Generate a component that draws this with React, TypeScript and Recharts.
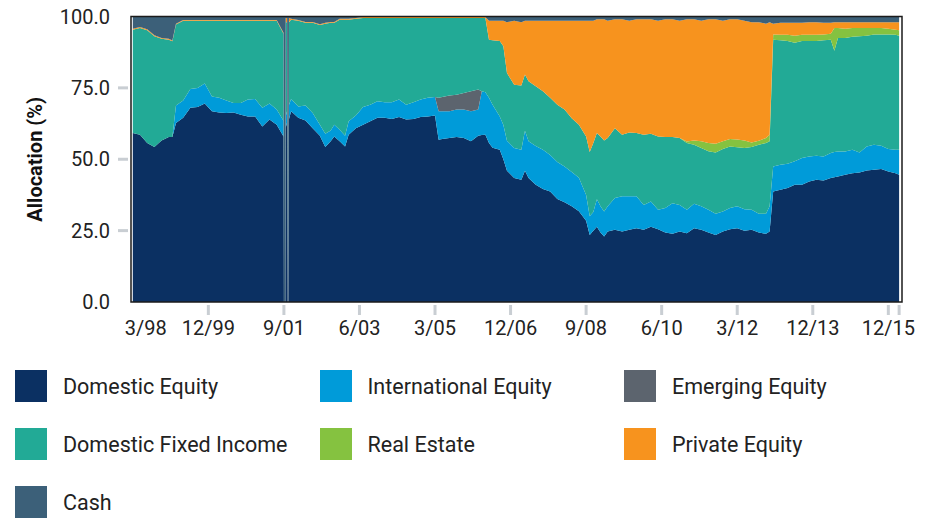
import { AreaChart, Area, XAxis, YAxis, ReferenceArea } from "recharts";

// month index, 0 = 3/98 ... 213 = 12/15
const months = [
  0, 2, 4, 6, 8, 10, 11, 12, 14, 16,
  18, 20, 22, 24, 26, 28, 30, 32, 34, 36,
  38, 40, 41.9, 42, 42.4, 42.5, 42.9, 43.05, 43.25, 43.4,
  44, 46, 48, 50, 52, 53.5, 55, 56, 57.5, 59,
  60, 62, 64, 66, 68, 70, 72, 74, 76, 78,
  80, 82, 84, 85, 86, 88, 90, 92, 94, 96,
  97, 98, 99, 100, 102, 103, 104, 106, 108, 109,
  110, 112, 114, 116, 118, 120, 122, 124, 126, 127,
  128, 129, 130, 131, 132, 134, 136, 138, 140, 142,
  144, 146, 148, 150, 152, 154, 156, 158, 160, 162,
  164, 166, 168, 170, 172, 174, 176, 177, 178, 180,
  182, 184, 186, 188, 190, 192, 194, 195, 196, 198,
  200, 202, 204, 206, 208, 210, 212, 213,
];

const domestic = [
  59.2, 58.6, 55.7, 54.3, 56.6, 57.8, 57.8, 62.7, 64.5, 68.0,
  68.3, 69.5, 66.8, 66.4, 66.2, 66.4, 65.6, 65.0, 65.0, 61.5,
  63.9, 62.1, 58.0, 0, 0, 61, 63, 0, 0, 64,
  66.8, 64.5, 63.6, 60.9, 58.2, 54.3, 56.3, 58.0, 56.3, 54.5,
  58.6, 60.9, 62.1, 63.3, 64.5, 64.5, 64.1, 64.8, 63.9, 64.1,
  64.8, 65.0, 65.3, 56.8, 57.1, 57.4, 57.8, 57.4, 56.3, 58.2,
  58.5, 58.6, 55.7, 54.0, 53.3, 50.0, 46.0, 43.4, 42.8, 46.0,
  43.4, 41.1, 39.6, 38.7, 36.1, 34.9, 33.5, 31.8, 28.5, 23.5,
  25.0, 26.4, 24.3, 22.9, 24.7, 25.3, 24.7, 25.3, 25.8, 25.3,
  26.4, 25.5, 24.3, 23.9, 24.7, 24.1, 25.8, 25.3, 24.3, 23.5,
  24.7, 25.5, 25.8, 25.0, 25.3, 24.3, 23.9, 24.7, 38.7, 39.3,
  39.9, 41.1, 41.1, 42.2, 42.8, 42.6, 43.4, 43.7, 44.0, 44.6,
  45.1, 45.4, 46.1, 46.3, 46.6, 45.7, 45.1, 44.6,
];

const international = [
  0, 0, 0, 0, 0, 0, 0, 6.1, 6.1, 6.6,
  6.7, 7.0, 5.2, 5.1, 4.4, 3.3, 4.1, 5.9, 6.1, 6.5,
  5.6, 5.3, 5.5, 0, 0, 4, 4, 0, 0, 5,
  4.3, 4.0, 5.2, 5.3, 3.9, 4.6, 3.8, 4.1, 4.0, 3.7,
  4.7, 4.4, 6.2, 5.8, 5.8, 5.5, 5.9, 6.1, 5.2, 5.9,
  6.1, 6.5, 6.5, 10.0, 9.7, 9.4, 9.6, 10.0, 10.5, 9.2,
  15.3, 14.9, 15.8, 15.1, 11.7, 12.0, 10.5, 10.5, 10.5, 14.0,
  12.9, 13.5, 13.7, 12.8, 12.9, 12.6, 12.0, 11.7, 9.0, 6.5,
  6.5, 9.6, 9.2, 8.8, 8.8, 11.1, 12.3, 11.7, 11.2, 8.7,
  8.8, 6.8, 8.6, 10.7, 9.3, 8.2, 8.6, 8.2, 8.0, 7.4,
  7.0, 7.4, 7.7, 7.5, 7.0, 6.6, 7.0, 8.8, 8.8, 8.8,
  8.5, 8.2, 9.3, 8.8, 8.4, 8.4, 8.8, 8.8, 8.7, 8.1,
  8.2, 7.0, 8.4, 8.8, 8.1, 7.9, 8.2, 8.7,
];

const emerging = [
  0, 0, 0, 0, 0, 0, 0, 0, 0, 0,
  0, 0, 0, 0, 0, 0, 0, 0, 0, 0,
  0, 0, 0, 0, 0, 0, 0, 0, 0, 0,
  0, 0, 0, 0, 0, 0, 0, 0, 0, 0,
  0, 0, 0, 0, 0, 0, 0, 0, 0, 0,
  0, 0, 0, 4.7, 5.0, 5.5, 5.2, 5.8, 7.0, 7.0,
  0, 0, 0, 0, 0, 0, 0, 0, 0, 0,
  0, 0, 0, 0, 0, 0, 0, 0, 0, 0,
  0, 0, 0, 0, 0, 0, 0, 0, 0, 0,
  0, 0, 0, 0, 0, 0, 0, 0, 0, 0,
  0, 0, 0, 0, 0, 0, 0, 0, 0, 0,
  0, 0, 0, 0, 0, 0, 0, 0, 0, 0,
  0, 0, 0, 0, 0, 0, 0, 0,
];

const fixedIncome = [
  36.2, 37.4, 39.5, 38.8, 35.6, 34.1, 33.5, 28.4, 27.9, 23.9,
  23.5, 22.0, 26.5, 27.0, 27.9, 28.8, 28.8, 27.6, 27.4, 30.5,
  29.0, 31.1, 30.5, 0, 0, 33, 31, 0, 0, 29,
  27.8, 30.0, 29.0, 31.6, 34.9, 38.6, 37.7, 35.7, 38.6, 40.7,
  35.6, 33.9, 31.2, 30.4, 29.2, 29.5, 29.5, 28.6, 30.4, 29.5,
  28.6, 28.0, 27.7, 28.0, 27.7, 27.2, 26.9, 26.3, 25.7, 25.1,
  25.7, 26.0, 20.4, 22.6, 26.4, 27.6, 23.7, 22.2, 22.5, 19.7,
  21.0, 21.0, 20.5, 20.0, 20.1, 19.9, 18.9, 18.6, 20.5, 22.5,
  24.2, 23.2, 24.5, 24.9, 23.9, 24.5, 21.6, 22.4, 22.2, 24.6,
  23.7, 25.7, 24.9, 23.2, 23.4, 23.4, 20.7, 20.4, 20.5, 21.5,
  21.9, 21.6, 20.7, 21.4, 22.0, 24.2, 24.8, 22.8, 44.4, 43.6,
  43.0, 41.5, 41.0, 40.4, 40.2, 40.7, 39.7, 35.5, 39.8, 39.8,
  39.6, 40.7, 38.8, 38.6, 39.0, 40.1, 40.3, 40.0,
];

const realEstate = [
  0, 0, 0, 0, 0, 0, 0, 0, 0, 0,
  0, 0, 0, 0, 0, 0, 0, 0, 0, 0,
  0, 0, 0, 0, 0, 0, 0, 0, 0, 0,
  0, 0, 0, 0, 0, 0, 0, 0, 0, 0,
  0, 0, 0, 0, 0, 0, 0, 0, 0, 0,
  0, 0, 0, 0, 0, 0, 0, 0, 0, 0,
  0, 0, 0, 0, 0, 0, 0, 0, 0, 0,
  0, 0, 0, 0, 0, 0, 0, 0, 0, 0,
  0, 0, 0, 0, 0, 0, 0, 0, 0, 0,
  0, 0, 0, 0, 0, 0.5, 1.5, 2.4, 2.9, 3.0,
  2.7, 2.6, 2.7, 2.7, 1.6, 1.4, 1.7, 2.3, 1.8, 1.9,
  2.2, 2.5, 2.2, 2.2, 2.2, 2.0, 2.1, 8.0, 3.5, 3.2,
  3.1, 2.9, 2.7, 2.3, 2.3, 2.0, 1.8, 1.9,
];

const privateEquity = [
  0.3, 0.3, 0.3, 0.3, 0.3, 0.3, 0.3, 0.3, 0.3, 0.3,
  0.3, 0.3, 0.3, 0.3, 0.3, 0.3, 0.3, 0.3, 0.3, 0.3,
  0.3, 0.3, 0.3, 0, 0, 1.5, 1.5, 0, 0, 1.5,
  0.3, 0.3, 0.3, 0.3, 0.3, 0.3, 0.3, 0.3, 0.3, 0.3,
  0.3, 0.3, 0.3, 0.3, 0.3, 0.3, 0.3, 0.3, 0.3, 0.3,
  0.3, 0.3, 0.3, 0.3, 0.3, 0.3, 0.3, 0.3, 0.3, 0.3,
  0.3, 0.3, 6.6, 6.8, 7.1, 8.9, 17.8, 22.4, 22.2, 18.8,
  21.2, 22.9, 24.7, 27.0, 29.4, 31.1, 34.1, 36.4, 40.5, 46.0,
  42.8, 39.8, 41.0, 42.4, 41.1, 38.1, 40.4, 39.1, 39.8, 40.4,
  40.1, 40.5, 41.2, 41.2, 41.1, 42.8, 42.4, 42.2, 43.3, 43.6,
  42.2, 41.9, 42.1, 41.9, 42.1, 41.5, 40.1, 39.4, 3.8, 4.2,
  4.2, 4.5, 4.2, 4.4, 4.4, 4.1, 3.8, 2.0, 2.0, 2.3,
  2.0, 2.0, 2.0, 2.0, 2.0, 2.3, 2.6, 2.8,
];

const cash = [
  4.3, 3.7, 4.5, 6.6, 7.5, 7.8, 8.4, 2.5, 1.2, 1.2,
  1.2, 1.2, 1.2, 1.2, 1.2, 1.2, 1.2, 1.2, 1.2, 1.2,
  1.2, 1.2, 5.7, 100, 100, 0.5, 0.5, 100, 100, 0.5,
  0.8, 1.2, 1.9, 1.9, 2.7, 2.2, 1.9, 1.9, 0.8, 0.8,
  0.8, 0.5, 0.2, 0.2, 0.2, 0.2, 0.2, 0.2, 0.2, 0.2,
  0.2, 0.2, 0.2, 0.2, 0.2, 0.2, 0.2, 0.2, 0.2, 0.2,
  0.2, 0.2, 1.5, 1.5, 1.5, 1.5, 2.0, 1.5, 2.0, 1.5,
  1.5, 1.5, 1.5, 1.5, 1.5, 1.5, 1.5, 1.5, 1.5, 1.5,
  1.5, 1.0, 1.0, 1.0, 1.5, 1.0, 1.0, 1.5, 1.0, 1.0,
  1.0, 1.5, 1.0, 1.0, 1.5, 1.0, 1.0, 1.5, 1.0, 1.0,
  1.5, 1.0, 1.0, 1.5, 2.0, 2.0, 2.5, 2.0, 2.5, 2.2,
  2.2, 2.2, 2.2, 2.0, 2.0, 2.2, 2.2, 2.0, 2.0, 2.0,
  2.0, 2.0, 2.0, 2.0, 2.0, 2.0, 2.0, 2.0,
];

const tickMonths = [0, 21, 42, 63, 84, 105, 126, 147, 168, 189, 210, 213];
const tickLabels = ["3/98", "12/99", "9/01", "6/03", "3/05", "12/06", "9/08", "6/10", "3/12", "12/13", "12/15", ""];
const yTicks = [0, 25, 50, 75, 100];

const series = [
  { key: "domestic", name: "Domestic Equity", color: "#0b3062" },
  { key: "international", name: "International Equity", color: "#009bd9" },
  { key: "emerging", name: "Emerging Equity", color: "#5c646e" },
  { key: "fixedIncome", name: "Domestic Fixed Income", color: "#22aa96" },
  { key: "realEstate", name: "Real Estate", color: "#85c240" },
  { key: "privateEquity", name: "Private Equity", color: "#f7931e" },
  { key: "cash", name: "Cash", color: "#3c6079" },
];

const data = months.map((m, i) => ({
  month: m,
  domestic: domestic[i],
  international: international[i],
  emerging: emerging[i],
  fixedIncome: fixedIncome[i],
  realEstate: realEstate[i],
  privateEquity: privateEquity[i],
  cash: cash[i],
}));

const tickGray = "#c9ced3";
const textColor = "#222";

function XTick(props: any) {
  const { x, y, payload } = props;
  const i = tickMonths.indexOf(payload.value);
  const label = tickLabels[i] ?? "";
  const first = i === 0;
  return (
    <g>
      {!first && <line x1={x} x2={x} y1={y + 3} y2={y + 13} stroke={tickGray} strokeWidth={3} />}
      {label && (
        <text x={first ? x - 8 : x} y={y + 33} textAnchor={first ? "start" : "middle"} fontSize={20} fill={textColor}>
          {label}
        </text>
      )}
    </g>
  );
}

function YTick(props: any) {
  const { x, y, payload } = props;
  const edge = payload.value === 0 || payload.value === 100;
  return (
    <g>
      {!edge && <line x1={x - 13} x2={x - 3} y1={y} y2={y} stroke={tickGray} strokeWidth={3} />}
      <text x={x - 21} y={y} dy="0.35em" textAnchor="end" fontSize={20} fill={textColor}>
        {Number(payload.value).toFixed(1)}
      </text>
    </g>
  );
}

export default function App() {
  return (
    <div style={{ width: 939, fontFamily: "Roboto, sans-serif" }}>
      {/* chart is pulled up 10px so the top tick label has room above the plot */}
      <div style={{ marginTop: -10 }}>
        <AreaChart width={939} height={350} data={data} margin={{ top: 18.5, right: 45, bottom: 0, left: 0 }}>
          <XAxis
            type="number"
            dataKey="month"
            domain={[-0.5, 213.8]}
            ticks={tickMonths}
            interval={0}
            tick={XTick}
            tickSize={0}
            tickMargin={0}
            axisLine={false}
            tickLine={false}
            height={46}
          />
          <YAxis
            type="number"
            domain={[0, 100]}
            ticks={yTicks}
            interval={0}
            tick={YTick}
            tickSize={0}
            tickMargin={0}
            axisLine={false}
            tickLine={false}
            width={123}
            label={{
              value: "Allocation (%)",
              angle: -90,
              position: "insideLeft",
              offset: 27,
              style: { textAnchor: "middle", fontWeight: 700, fontSize: 20, fill: "#111" },
            }}
          />
          {series.map((s) => (
            <Area
              key={s.key}
              dataKey={s.key}
              name={s.name}
              stackId="alloc"
              type="linear"
              fill={s.color}
              fillOpacity={1}
              stroke="none"
              dot={false}
              activeDot={false}
              isAnimationActive={false}
            />
          ))}
          <ReferenceArea x1={-0.5} x2={213.8} y1={0} y2={100} fill="none" stroke="#1b1b1b" strokeWidth={1.5} />
        </AreaChart>
      </div>

      <div
        style={{
          display: "grid",
          gridTemplateColumns: "304.5px 304.5px 304.5px",
          rowGap: 26,
          marginTop: 22,
          paddingLeft: 7,
        }}
      >
        {series.map((s) => (
          <div key={s.key} style={{ display: "flex", alignItems: "center", height: 32 }}>
            <span style={{ width: 32, height: 32, background: s.color, display: "inline-block", flexShrink: 0 }} />
            <span style={{ marginLeft: 16, fontSize: 21.5, color: textColor, whiteSpace: "nowrap" }}>{s.name}</span>
          </div>
        ))}
      </div>
    </div>
  );
}
